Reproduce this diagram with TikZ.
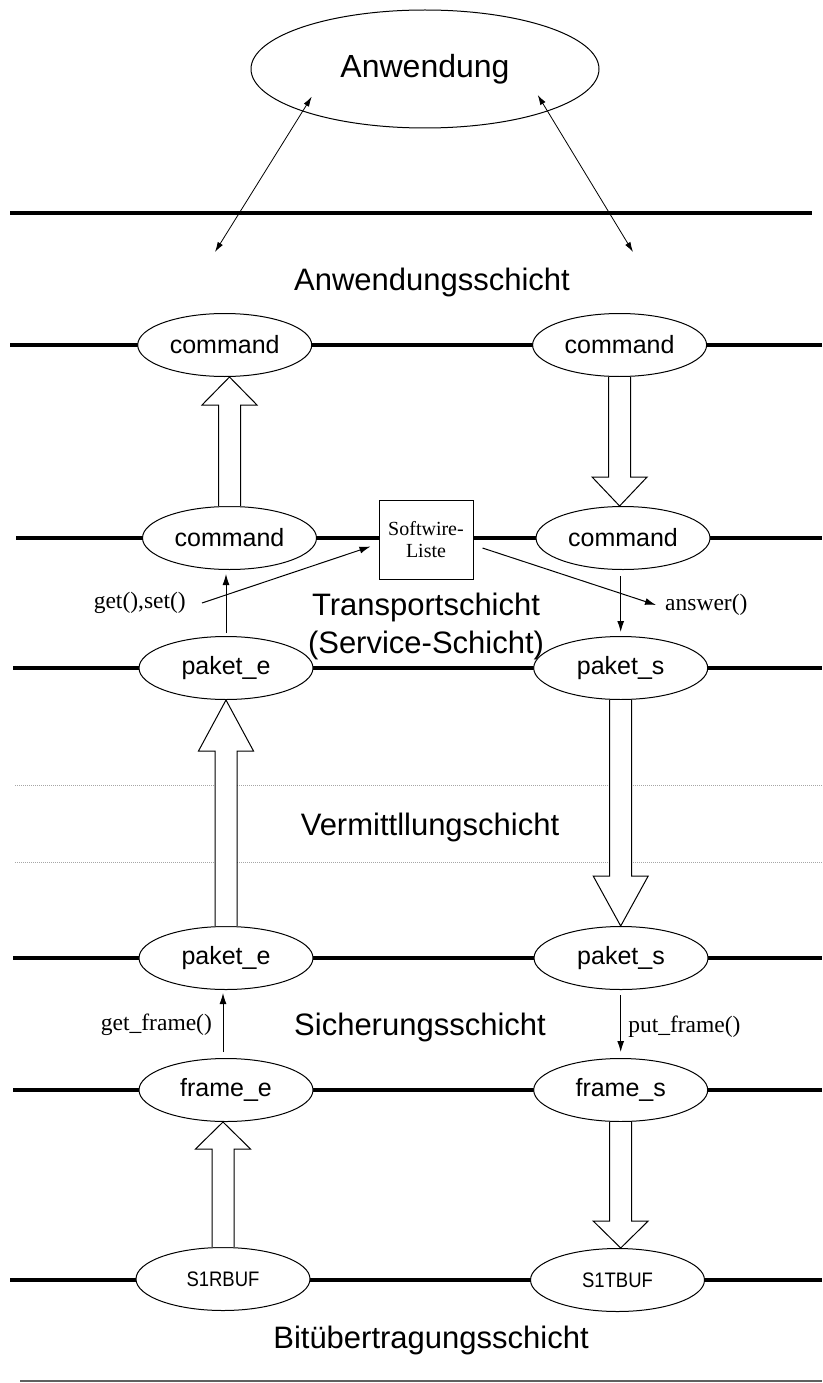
\documentclass[tikz,border=0pt]{standalone}
\usepackage{fontspec}
\setmainfont{Liberation Serif}
\setsansfont{Liberation Sans}
\newfontfamily\bufsans[FakeStretch=0.88]{Liberation Sans}
\usetikzlibrary{shapes.geometric,arrows.meta,calc}
\tikzset{
  layerline/.style={line width=4pt,black},
  thinline/.style={line width=1pt,black},
  dotline/.style={line width=1pt,gray!70,dash pattern=on 1pt off 1pt},
  ell/.style={ellipse,draw,line width=1pt,fill=white,inner sep=0pt,
    minimum width=174pt,minimum height=63pt,font=\sffamily\fontsize{25}{30}\selectfont},
  bufell/.style={ell,font=\bufsans\fontsize{21}{25}\selectfont},
  layerlabel/.style={font=\sffamily\fontsize{31}{38}\selectfont,inner sep=0pt,align=center},
  funclabel/.style={font=\rmfamily\fontsize{23.5}{28}\selectfont,inner sep=0pt},
  swbox/.style={rectangle,draw,line width=1pt,fill=white,minimum width=94pt,minimum height=79pt,
    inner sep=0pt,align=center,font=\rmfamily\fontsize{20}{22}\selectfont},
  thinarrow/.style={line width=1pt,-{Latex[length=11pt,width=7pt]}},
  dblarrow/.style={line width=0.8pt,{Latex[length=10pt,width=6pt]}-{Latex[length=10pt,width=6pt]}},
  blockarr/.style={draw,fill=white,line width=1pt,line join=miter}
}
\newcommand\hollowup[3]{%
  \path[blockarr] let \p1=(#1.north), \p2=(#2.south) in
    (\x1-11pt,\y1) -- (\x1-11pt,\y2-#3pt) -- (\x1-27.5pt,\y2-#3pt) -- (\x1,\y2)
    -- (\x1+27.5pt,\y2-#3pt) -- (\x1+11pt,\y2-#3pt) -- (\x1+11pt,\y1);}
\newcommand\hollowdown[3]{%
  \path[blockarr] let \p1=(#1.south), \p2=(#2.north) in
    (\x1-11pt,\y1) -- (\x1-11pt,\y2+#3pt) -- (\x1-27.5pt,\y2+#3pt) -- (\x1,\y2)
    -- (\x1+27.5pt,\y2+#3pt) -- (\x1+11pt,\y2+#3pt) -- (\x1+11pt,\y1);}
\begin{document}
\begin{tikzpicture}[x=1pt,y=-1pt]
\useasboundingbox (0,0) rectangle (822,1383);
% layer lines
\coordinate (l1a) at (10,213);   \coordinate (l1b) at (812,213);
\coordinate (l2a) at (10,345);   \coordinate (l2b) at (822,345);
\coordinate (l3a) at (16,538);   \coordinate (l3b) at (822,538);
\coordinate (l4a) at (13,668);   \coordinate (l4b) at (822,668);
\coordinate (l5a) at (13,958);   \coordinate (l5b) at (822,958);
\coordinate (l6a) at (13,1090);  \coordinate (l6b) at (822,1090);
\coordinate (l7a) at (10,1280);  \coordinate (l7b) at (822,1280);
\foreach \i in {1,...,7} {\draw[layerline] (l\i a) -- (l\i b);}
\coordinate (d1a) at (15,785.5); \coordinate (d1b) at (822,785.5);
\coordinate (d2a) at (15,862.5); \coordinate (d2b) at (822,862.5);
\draw[dotline] (d1a) -- (d1b);
\draw[dotline] (d2a) -- (d2b);
\coordinate (b1a) at (20,1381); \coordinate (b1b) at (822,1381);
\draw[line width=1.5pt,gray!75!black] (b1a) -- (b1b);

% top application
\node[ellipse,draw,line width=1pt,inner sep=0pt,minimum width=348pt,minimum height=118pt,
  font=\sffamily\fontsize{32}{38}\selectfont] (app) at (425,69) {Anwendung};
\coordinate (t1a) at (311.7,96.7); \coordinate (t1b) at (215,252);
\coordinate (t2a) at (537.7,95);   \coordinate (t2b) at (633,252);
\draw[dblarrow] (t1a) -- (t1b);
\draw[dblarrow] (t2a) -- (t2b);
\node[layerlabel] (lanw) at (432,282) {Anwendungsschicht};

% ellipses
\node[ell] (c2l) at (224.7,345) {command};
\node[ell] (c2r) at (619.6,345) {command};
\node[ell] (c3l) at (229.5,538) {command};
\node[ell] (c3r) at (623,538) {command};
\node[ell] (p4l) at (226,668) {paket\_e};
\node[ell] (p4r) at (620.7,668) {paket\_s};
\node[ell] (p5l) at (226,958) {paket\_e};
\node[ell] (p5r) at (621,958) {paket\_s};
\node[ell] (f6l) at (226,1090) {frame\_e};
\node[ell] (f6r) at (620.7,1090) {frame\_s};
\node[bufell] (b7l) at (223,1279) {S1RBUF};
\node[bufell] (b7r) at (617.5,1280) {S1TBUF};

\node[swbox] (sw) at (426,539.5) {Softwire-\\Liste};

% hollow arrows
\hollowup{c3l}{c2l}{28}
\hollowdown{c2r}{c3r}{29}
\hollowup{p5l}{p4l}{51}
\hollowdown{p4r}{p5r}{50}
\hollowup{b7l}{f6l}{27}
\hollowdown{f6r}{b7r}{27}

% labels
\node[layerlabel] (ltrans) at (426,626) {Transportschicht\\(Service-Schicht)};
\node[layerlabel] (lverm) at (430,827) {Vermittllungschicht};
\node[layerlabel] (lsich) at (420,1027) {Sicherungsschicht};
\node[layerlabel] (lbit) at (431,1340) {Bitübertragungsschicht};

\node[funclabel,anchor=east] (gs) at (186,603) {get(),set()};
\node[funclabel,anchor=west] (ans) at (665,605) {answer()};
\node[funclabel] (gf) at (156.4,1025) {get\_frame()};
\node[funclabel] (pf) at (684.4,1027) {put\_frame()};

% thin arrows
\draw[thinarrow] ([xshift=16pt]gs.east) -- ([xshift=-8pt,yshift=-7pt]sw.west);
\draw[thinarrow] ([xshift=9pt,yshift=-8.5pt]sw.east) -- ([xshift=-9pt]ans.west);
\draw[thinarrow,shorten <=3pt,shorten >=4pt] (p4l.north) -- (p4l.north |- c3l.south);
\draw[thinarrow,shorten <=6pt,shorten >=4pt] (c3r.south -| p4r.north) -- (p4r.north);
\draw[thinarrow,shorten <=6pt,shorten >=3pt] ([xshift=-3pt]f6l.north) -- ([xshift=-3pt]f6l.north |- p5l.south);
\draw[thinarrow,shorten <=5pt,shorten >=6pt] (p5r.south -| f6r.north) -- (f6r.north);
\end{tikzpicture}
\end{document}
